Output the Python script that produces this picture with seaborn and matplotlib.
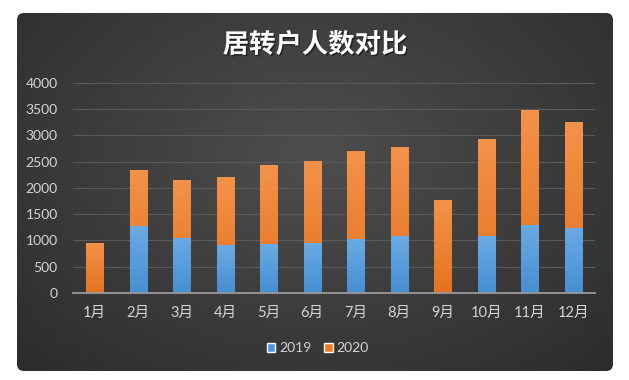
import numpy as np
import pandas as pd
import matplotlib
matplotlib.use('Agg')
import matplotlib.pyplot as plt
import seaborn as sns
from matplotlib.patches import FancyBboxPatch, Patch
from matplotlib.colors import to_rgb
import matplotlib.patheffects as pe

# data
months = ['1月', '2月', '3月', '4月', '5月', '6月', '7月', '8月', '9月', '10月', '11月', '12月']
v2019 = [0, 1270, 1050, 910, 935, 960, 1030, 1080, 0, 1080, 1295, 1240]
v2020 = [960, 1065, 1095, 1290, 1495, 1545, 1670, 1690, 1765, 1855, 2180, 2020]
yticks = [0, 500, 1000, 1500, 2000, 2500, 3000, 3500, 4000]

df = pd.DataFrame({'month': months, 'y2019': v2019, 'y2020': v2020})
df['total'] = df['y2019'] + df['y2020']

blue = '#4a98df'
orange = '#f27a22'
txt = '#d4d4d4'

sns.set_theme(style='dark')
plt.rcParams['font.family'] = ['Lato', 'Noto Sans CJK SC', 'DejaVu Sans']

W, H = 629, 380
fig = plt.figure(figsize=(W / 100, H / 100), dpi=100, facecolor='white')

# dark card with a radial gradient, rounded corners
bg = fig.add_axes([0, 0, 1, 1], zorder=0)
bg.set_xlim(0, W)
bg.set_ylim(H, 0)
bg.axis('off')
card = FancyBboxPatch((17, 13), 596, 358, boxstyle='round,pad=0,rounding_size=7',
                      facecolor='none', edgecolor='none', transform=bg.transData)
bg.add_patch(card)
gx, gy = np.meshgrid(np.linspace(0, 1, 300), np.linspace(0, 1, 200))
r = np.sqrt(((gx - 0.5) / 0.75) ** 2 + ((gy - 0.4) / 0.9) ** 2)
r = np.clip(r, 0, 1)
c0 = np.array([0x4e, 0x4e, 0x4e]) / 255
c1 = np.array([0x2a, 0x2a, 0x2a]) / 255
img = c0[None, None, :] * (1 - r[..., None]) + c1[None, None, :] * r[..., None]
im = bg.imshow(img, extent=(17, 613, 371, 13), aspect='auto', interpolation='bilinear')
im.set_clip_path(card)

# main plot
ax = fig.add_axes([73 / W, 1 - 293 / H, (595 - 73) / W, (293 - 82.7) / H], zorder=1)
ax.set_facecolor('none')
sns.barplot(data=df, x='month', y='total', color=orange, saturation=1, width=0.4,
            errorbar=None, ax=ax, zorder=3, linewidth=0)
sns.barplot(data=df, x='month', y='y2019', color=blue, saturation=1, width=0.4,
            errorbar=None, ax=ax, zorder=4, linewidth=0)

# soft vertical gradient on every bar (lighter on top)
grad = np.linspace(0, 1, 64)[:, None]
for p in list(ax.patches):
    h = p.get_height()
    if h <= 0:
        continue
    base = np.array(to_rgb(p.get_facecolor()))
    top = base + (1 - base) * 0.18
    bot = base * 0.94
    col = top[None, None, :] * (1 - grad[..., None]) + bot[None, None, :] * grad[..., None]
    col = np.repeat(col, 2, axis=1)
    x0 = p.get_x()
    gi = ax.imshow(col, extent=(x0, x0 + p.get_width(), p.get_y(), p.get_y() + h),
                   aspect='auto', interpolation='bilinear', zorder=p.get_zorder() + 0.1,
                   origin='upper')
    gi.set_clip_path(p)

ax.set_xlim(-0.5, len(months) - 0.5)
ax.set_ylim(0, 4000)
ax.set_yticks(yticks)
ax.set_xlabel('')
ax.set_ylabel('')
ax.grid(axis='y', color='#5a5a5a', linewidth=0.8)
ax.grid(axis='x', visible=False)
for s in ['top', 'right', 'left']:
    ax.spines[s].set_visible(False)
ax.spines['bottom'].set_color('#9a9a9a')
ax.spines['bottom'].set_linewidth(1.3)
ax.spines['bottom'].set_zorder(6)
ax.tick_params(axis='y', length=0, labelsize=10, labelcolor=txt, pad=11)
ax.tick_params(axis='x', length=0, labelsize=10.5, labelcolor=txt, pad=9)

# title
fig.text(315 / W, 1 - 45 / H, '居转户人数对比', ha='center', va='center', color='white',
         fontsize=19, fontweight='bold', family=['Noto Sans CJK SC', 'DejaVu Sans'],
         path_effects=[pe.withSimplePatchShadow(offset=(1, -1), shadow_rgbFace='black', alpha=0.5)])

# legend
handles = [Patch(facecolor=blue, label='2019'), Patch(facecolor=orange, label='2020')]
fig.legend(handles=handles, loc='center', bbox_to_anchor=(318 / W, 1 - 348 / H), ncol=2,
           frameon=False, fontsize=10, labelcolor=txt, handlelength=0.6, handleheight=0.6,
           handletextpad=0.3, columnspacing=0.9)

fig.savefig('out.png', dpi=100, facecolor='white')
